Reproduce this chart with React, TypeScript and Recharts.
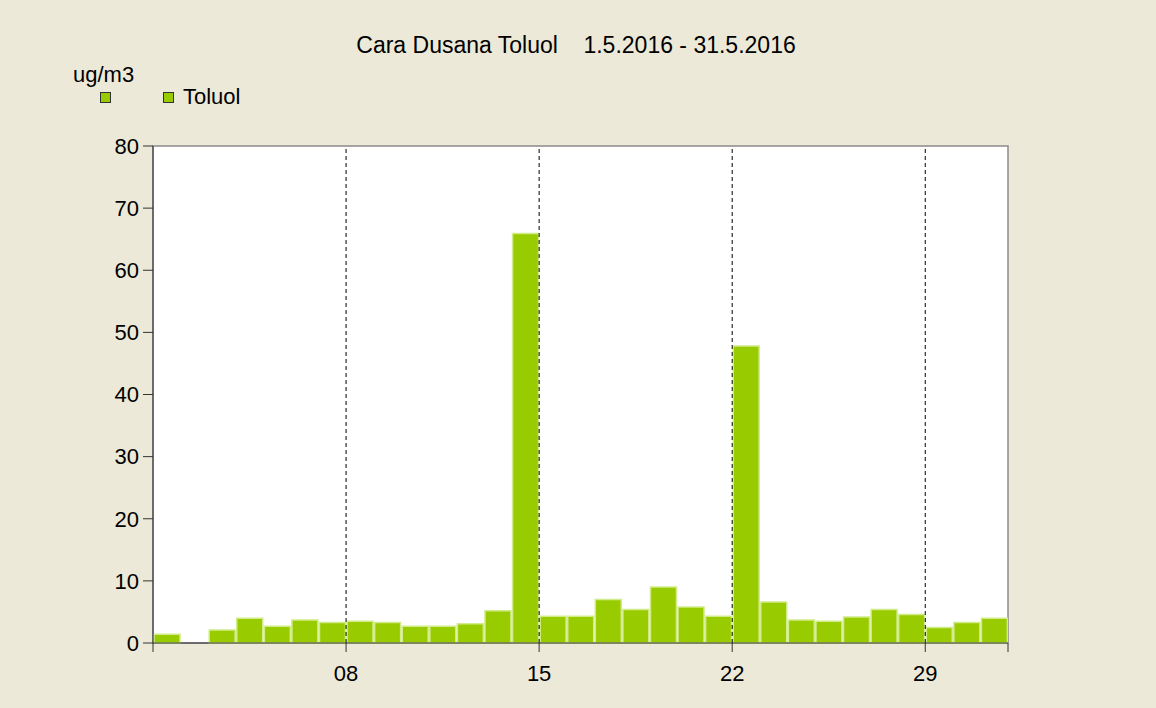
import React from 'react';
import { BarChart, Bar, XAxis, YAxis, CartesianGrid, ReferenceLine, ReferenceArea } from 'recharts';

// daily means, May 2016 (day 2 has no value)
const days = [1, 2, 3, 4, 5, 6, 7, 8, 9, 10, 11, 12, 13, 14, 15, 16, 17, 18, 19, 20, 21, 22, 23, 24, 25, 26, 27, 28, 29, 30, 31];
const toluol = [1.4, null, 2.1, 4.0, 2.7, 3.7, 3.3, 3.5, 3.3, 2.7, 2.7, 3.1, 5.2, 65.9, 4.3, 4.3, 7.0, 5.4, 9.0, 5.8, 4.3, 47.8, 6.6, 3.7, 3.5, 4.2, 5.4, 4.6, 2.5, 3.3, 4.0];
const weekTicks = [8, 15, 22, 29];
const yTicks = [0, 10, 20, 30, 40, 50, 60, 70, 80];

const title = 'Cara Dusana Toluol    1.5.2016 - 31.5.2016';
const unit = 'ug/m3';
const seriesName = 'Toluol';
const green = '#99CC00';
const font = '"Liberation Sans", Arial, sans-serif';

// each day occupies [d, d+1) on the numeric axis, bar sits in the middle
const rows = days.map((d, i) => ({ pos: d + 0.5, value: toluol[i] }));

const fmtDay = (v: number) => (weekTicks.includes(v) ? String(v).padStart(2, '0') : '');

const Swatch = ({ left }: { left: number }) => (
  <div style={{ position: 'absolute', left, top: 92, width: 9, height: 9, background: green, border: '1px solid #333' }} />
);

export default function App() {
  return (
    <div style={{ position: 'absolute', left: 0, top: 0, width: 1156, height: 708, background: '#ECE9D8', fontFamily: font, color: '#000' }}>
      <div style={{ position: 'absolute', left: 0, width: 1156, top: 34, textAlign: 'center', fontSize: 23, lineHeight: 1, whiteSpace: 'pre' }}>
        <span style={{ position: 'relative', left: -2 }}>{title}</span>
      </div>
      <div style={{ position: 'absolute', left: 73, top: 64, fontSize: 22, lineHeight: 1 }}>{unit}</div>
      <Swatch left={100} />
      <Swatch left={163} />
      <div style={{ position: 'absolute', left: 183, top: 86, fontSize: 22, lineHeight: 1 }}>{seriesName}</div>

      <BarChart width={1156} height={708} data={rows} margin={{ top: 146, right: 148, bottom: 33, left: 113 }}>
        <CartesianGrid fill="#ffffff" horizontal={false} vertical={false} />
        <XAxis
          type="number"
          dataKey="pos"
          domain={[1, 32]}
          ticks={[1, ...weekTicks, 32]}
          tickFormatter={fmtDay}
          allowDataOverflow
          height={32}
          tickSize={9}
          tickMargin={13}
          tick={{ fill: '#000', fontSize: 22, fontFamily: font }}
          axisLine={{ stroke: '#333' }}
          tickLine={{ stroke: '#333' }}
        />
        <YAxis
          domain={[0, 80]}
          ticks={yTicks}
          width={40}
          tickSize={10}
          tickMargin={4}
          tick={{ fill: '#000', fontSize: 22, fontFamily: font }}
          axisLine={{ stroke: '#333' }}
          tickLine={{ stroke: '#333' }}
        />
        <Bar dataKey="value" name={seriesName} fill={green} stroke="#d2ec8c" strokeWidth={1.5} barSize={26} isAnimationActive={false} />
        {weekTicks.map(t => (
          <ReferenceLine key={t} x={t} stroke="#000" strokeDasharray="4 3" />
        ))}
        <ReferenceArea x1={1} x2={32} y1={0} y2={80} fill="none" stroke="#8a8a8a" strokeWidth={1.5} />
      </BarChart>
    </div>
  );
}
